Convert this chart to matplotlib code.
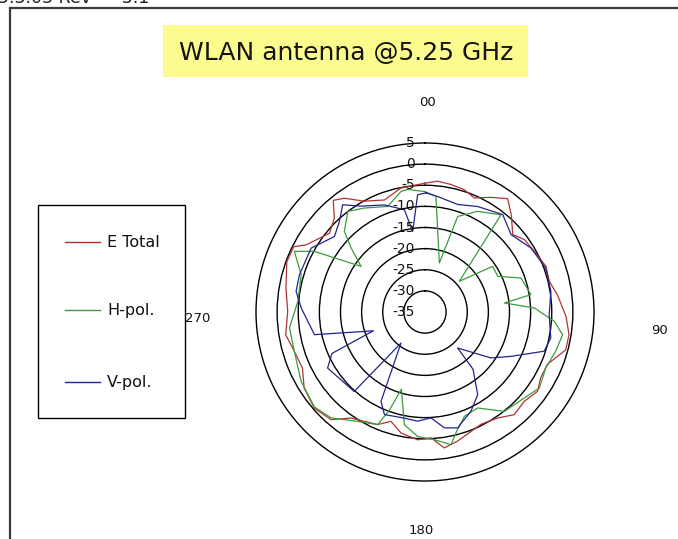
import numpy as np
import matplotlib
matplotlib.use("Agg")
import matplotlib.pyplot as plt
from matplotlib.patches import Rectangle
from matplotlib.lines import Line2D
import matplotlib.transforms as mtrans

plt.rcParams['font.family'] = ['Liberation Sans', 'DejaVu Sans']

# ---------------- data (angle in degrees clockwise from top, level in dB) -------------
e_angles = [0, 5.5, 11.5, 17.8, 23.4, 29.9, 36.1, 41.5, 48.6, 53.9, 61, 69.3, 76.1, 82.6,
            91.8, 98.9, 105, 113.2, 119.6, 125.2, 132, 139, 145.6, 153.6, 158.9, 165.8,
            171.9, 177.3, 183.3, 191.2, 197.3, 202.8, 209, 214.9, 221.1, 228.9, 237.8,
            245.4, 253.2, 260.7, 270.3, 279.8, 290, 296.4, 299.5, 309.5, 316, 320.6,
            324.7, 331.3, 340.1, 349]
e_values = [-4.5, -3.9, -4.2, -4.6, -5.6, -3.7, -1.8, -4.2, -7.3, -5.9, -5.4, -4.4, -4.7,
            -3.4, -1.6, -0.5, -0.5, -3.5, -3.5, -2.4, -3.4, -2.8, -4.6, -5.3, -4.7, -3.5,
            -2.5, -5.2, -4.7, -5.8, -7.9, -6.1, -5.4, -4.4, -1.2, -0.3, -1.2, -3.1, -2.7,
            -1.6, -2.5, -1.6, -0.2, -0.3, -2.7, -5.7, -4.1, -0.8, -2.0, -5.1, -6.8, -5.1]

h_angles = [0, 5.4, 16.3, 18.9, 27.6, 38, 48.2, 56, 63.9, 70.5, 80.7, 83.5, 87.9, 94.1,
            99.4, 106.7, 114.8, 123.6, 130.9, 141.4, 151.3, 159.3, 165.3, 168.9, 175.8,
            183.4, 190.4, 197, 200, 202.8, 211.6, 221.6, 229.4, 240.8, 253.2, 263.3,
            274.8, 286.8, 294.9, 298.7, 305.5, 310.9, 315, 322.5, 329.7, 340.5, 348.8,
            351.9]
h_values = [-6.5, -7.5, -22.9, -11.1, -8.1, -5.8, -24.1, -15.7, -15.8, -10.9, -9.6, -16.1,
            -9.1, -4.3, -2.0, -2.7, -3.5, -2.5, -3.9, -4.9, -9.1, -8.6, -5.7, -3.0, -4.7,
            -5.5, -7.9, -15.9, -10.2, -6.1, -4.6, -1.5, -0.5, -1.4, -2.7, -2.7, -4.8,
            -4.4, -0.9, -5.1, -16.4, -11.9, -8.0, -5.0, -6.5, -8.5, -5.9, -5.7]

v_angles = [0.5, 6.2, 16.9, 26.5, 38.6, 48, 58.9, 70, 80.7, 91.2, 101.7, 108.2, 117.3,
            124.9, 137.8, 140, 147.5, 155.2, 164.3, 170.5, 176.8, 183.8, 191, 201.6,
            206.2, 217.7, 221.7, 240.1, 246, 250, 258.4, 271.8, 279.1, 286.5, 299.3,
            309.8, 316.6, 322.5, 328.8, 339.2, 348.6, 351.3, 356.4]
v_values = [-6.8, -7.5, -8.4, -7.1, -5.5, -7.6, -5.7, -4.6, -4.8, -5.6, -4.6, -5.3, -12.1,
            -16.0, -23.5, -17.3, -11.8, -9.1, -6.5, -7.2, -9.9, -9.1, -9.4, -8.9, -11.4,
            -25.7, -9.8, -8.4, -10.9, -22.0, -8.3, -5.7, -4.1, -4.0, -4.1, -7.1, -5.5,
            -3.0, -5.7, -7.9, -10.3, -15.7, -7.2]

series_names = ["E Total", "H-pol.", "V-pol."]
series_colors = ["#b03434", "#3c9c3c", "#24248c"]
ring_values = [5, 0, -5, -10, -15, -20, -25, -30, -35]
angle_labels = ["00", "90", "180", "270"]
title_text = "WLAN antenna @5.25 GHz"

# ---------------- figure ----------------
W, H = 678, 539
fig = plt.figure(figsize=(W / 100, H / 100), dpi=100)
fig.patch.set_facecolor("white")


def fx(px):
    return px / W


def fy(py):
    return 1 - py / H


# outer frame (left + top edges visible)
fig.add_artist(Line2D([fx(10), fx(10)], [fy(8), fy(545)], color="#3a3a3a", lw=1.6))
fig.add_artist(Line2D([fx(10), fx(690)], [fy(8), fy(8)], color="#3a3a3a", lw=1.6))

# header text, cropped by the top edge as in the source page
fig.text(fx(-2), fy(-2), "5.3.03 Rev  \u2013  3.1", fontsize=12.5, ha="left", va="center",
         color="#222222", family="DejaVu Sans")

# title with yellow box
fig.add_artist(Rectangle((fx(163), fy(77)), fx(528) - fx(163), fy(25) - fy(77),
                         facecolor="#fbfb8e", edgecolor="none"))
fig.text(fx(346), fy(53), title_text, fontsize=18, ha="center",
         va="center", color="#151515", family="DejaVu Sans")

# polar axes
cx, cy, R = 425, 312, 169
ax = fig.add_axes([fx(cx - R), fy(cy + R), 2 * R / W, 2 * R / H], projection="polar")
ax.set_facecolor("none")
ax.set_theta_zero_location("N")
ax.set_theta_direction(-1)
ax.set_ylim(-35, 5)
ax.set_yticks([-30, -25, -20, -15, -10, -5, 0])
ax.set_yticklabels([])
ax.set_xticks([])
ax.xaxis.set_tick_params(which="both", length=0, width=0)
ax.yaxis.set_tick_params(which="both", length=0, width=0)
ax.yaxis.grid(True, color="black", lw=1.0)
ax.spines["polar"].set_color("black")
ax.spines["polar"].set_linewidth(1.0)

for ang, val, col in zip([e_angles, h_angles, v_angles], [e_values, h_values, v_values],
                         series_colors):
    t = np.deg2rad(list(ang) + [ang[0]])
    r = list(val) + [val[0]]
    ax.plot(t, r, color=col, lw=0.9, clip_on=False)

off = mtrans.offset_copy(ax.transData, fig=fig, x=-10, y=0, units="dots")
for v in ring_values:
    ax.text(0, v, f"{v}", transform=off, ha="right", va="center", fontsize=10,
            color="#111111", family="DejaVu Sans")

# angle labels
pos = [(428, 102), (660, 330), (421, 530), (198, 318)]
for lab, (px, py) in zip(angle_labels, pos):
    fig.text(fx(px), fy(py), lab, ha="center", va="center", fontsize=9.5, color="#111111",
             family="DejaVu Sans")

# legend box
fig.add_artist(Rectangle((fx(38), fy(418)), fx(185) - fx(38), fy(205) - fy(418),
                         facecolor="none", edgecolor="black", lw=1.0))
for name, col, py in zip(series_names, series_colors, [242, 310, 382]):
    fig.add_artist(Line2D([fx(65), fx(100)], [fy(py), fy(py)], color=col, lw=1.0))
    fig.text(fx(107), fy(py), name, ha="left", va="center", fontsize=11.5, color="#111111",
             family="DejaVu Sans")

fig.savefig("out.png", dpi=100)
